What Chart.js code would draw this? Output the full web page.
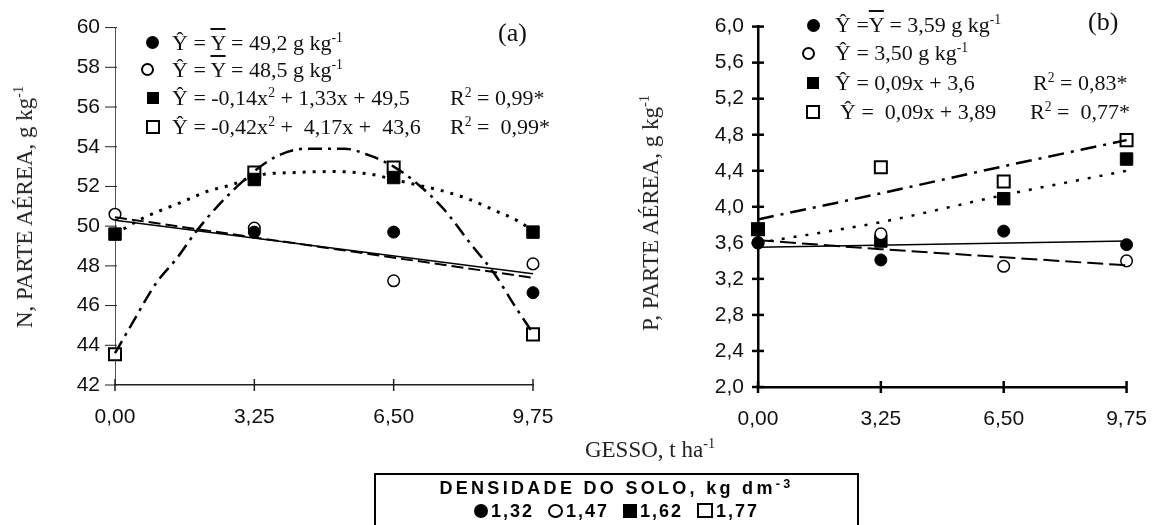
<!DOCTYPE html>
<html><head><meta charset="utf-8">
<script src="https://cdn.jsdelivr.net/npm/chart.js@4.4.1/dist/chart.umd.min.js"></script>
<style>
html,body{margin:0;padding:0;background:#fff;}
#wrap{position:relative;width:1167px;height:525px;overflow:hidden;background:#fff;}
canvas{position:absolute;top:0;}
.t{position:absolute;font-family:"Liberation Serif","Times New Roman",serif;font-size:22px;color:#111;white-space:pre;line-height:24px;}
.sup{font-size:0.62em;position:relative;top:-0.6em;}
.ov{text-decoration:overline;}
.mk{position:absolute;box-sizing:border-box;}
.rot{position:absolute;font-family:"Liberation Serif","Times New Roman",serif;font-size:23px;color:#222;white-space:pre;transform:translate(-50%,-50%) rotate(-90deg);line-height:24px;}
#box{position:absolute;left:374px;top:473px;width:485px;height:70px;border:2px solid #000;box-sizing:border-box;font-family:"Liberation Sans",Arial,sans-serif;font-weight:bold;font-size:18px;letter-spacing:3.3px;color:#000;text-align:center;}
.bm{display:inline-block;box-sizing:border-box;vertical-align:-1px;margin-right:3px;}
</style></head><body>
<div id="wrap">
<canvas id="ca" width="600" height="525" style="left:0"></canvas>
<canvas id="cb" width="567" height="525" style="left:600px"></canvas>

<!-- legend (a) -->
<div class="mk" style="left:146px;top:36px;width:13px;height:13px;border-radius:50%;background:#000"></div>
<div class="mk" style="left:141px;top:63px;width:13px;height:13px;border-radius:50%;border:2px solid #000;background:#fff"></div>
<div class="mk" style="left:147px;top:92px;width:12px;height:12px;background:#000"></div>
<div class="mk" style="left:146px;top:120px;width:14px;height:14px;border:2px solid #000;background:#fff"></div>
<div class="t" style="left:172px;top:31px">Ŷ = <span class="ov">Y</span> = 49,2 g kg<span class="sup">-1</span></div>
<div class="t" style="left:172px;top:58px">Ŷ = <span class="ov">Y</span> = 48,5 g kg<span class="sup">-1</span></div>
<div class="t" style="left:172px;top:86px">Ŷ = -0,14x<span class="sup">2</span> + 1,33x + 49,5</div>
<div class="t" style="left:450px;top:86px">R<span class="sup">2</span> = 0,99*</div>
<div class="t" style="left:172px;top:115px">Ŷ = -0,42x<span class="sup">2</span> +  4,17x +  43,6</div>
<div class="t" style="left:450px;top:115px">R<span class="sup">2</span> =  0,99*</div>
<div class="t" style="left:498px;top:19px;font-size:26px;line-height:28px">(a)</div>

<!-- legend (b) -->
<div class="mk" style="left:807px;top:19px;width:13px;height:13px;border-radius:50%;background:#000"></div>
<div class="mk" style="left:802px;top:47px;width:13px;height:13px;border-radius:50%;border:2px solid #000;background:#fff"></div>
<div class="mk" style="left:807px;top:77px;width:12px;height:12px;background:#000"></div>
<div class="mk" style="left:806px;top:105px;width:14px;height:14px;border:2px solid #000;background:#fff"></div>
<div class="t" style="left:835px;top:13px">Ŷ =<span class="ov">Y</span> = 3,59 g kg<span class="sup">-1</span></div>
<div class="t" style="left:835px;top:41px">Ŷ = 3,50 g kg<span class="sup">-1</span></div>
<div class="t" style="left:835px;top:71px">Ŷ = 0,09x + 3,6</div>
<div class="t" style="left:1033px;top:71px">R<span class="sup">2</span> = 0,83*</div>
<div class="t" style="left:840px;top:100px">Ŷ =  0,09x + 3,89</div>
<div class="t" style="left:1030px;top:100px">R<span class="sup">2</span> =  0,77*</div>
<div class="t" style="left:1088px;top:8px;font-size:26px;line-height:28px">(b)</div>

<!-- axis titles -->
<div class="rot" style="left:26px;top:207px">N, PARTE AÉREA, g kg<span class="sup">-1</span></div>
<div class="rot" style="left:652px;top:213px">P, PARTE AÉREA, g kg<span class="sup">-1</span></div>
<div class="t" style="left:650px;top:438px;font-size:23px;transform:translateX(-50%);color:#222">GESSO, t ha<span class="sup">-1</span></div>

<div id="box">
  <div style="position:absolute;left:0;right:0;top:3px;line-height:20px">DENSIDADE DO SOLO, kg dm<span style="font-size:0.7em;position:relative;top:-0.5em">-3</span></div>
  <div style="position:absolute;left:0;right:0;top:26px;line-height:20px;letter-spacing:2px"><span class="bm" style="width:14px;height:14px;border-radius:50%;background:#000"></span>1,32&nbsp;&nbsp;<span class="bm" style="width:15px;height:14px;border-radius:50%;border:2.5px solid #000"></span>1,47&nbsp;&nbsp;<span class="bm" style="width:14px;height:14px;background:#000"></span>1,62&nbsp;&nbsp;<span class="bm" style="width:16px;height:15px;border:2.5px solid #000"></span>1,77</div>
</div>
</div>

<script>
// ---- shared x categories ----
const gesso = [0, 3.25, 6.5, 9.75];
const gessoLabels = ['0,00', '3,25', '6,50', '9,75'];

// ---- chart (a): N ----
const nTicks = [42, 44, 46, 48, 50, 52, 54, 56, 58, 60];
const nTickLabels = ['42', '44', '46', '48', '50', '52', '54', '56', '58', '60'];
const N_d132 = [49.6, 49.7, 49.7, 46.65];
const N_d147 = [50.6, 49.9, 47.25, 48.1];
const N_d162 = [49.6, 52.35, 52.45, 49.7];
const N_d177 = [43.55, 52.7, 52.95, 44.55];
// fitted curves
const N_fit132_x = [0, 9.75];
const N_fit132 = [50.3, 47.6];
const N_fit147_x = [0, 9.75];
const N_fit147 = [50.45, 47.4];
const N_fit162_x = [0, 0.6, 1.6, 2.15, 2.75, 3.3, 4.2, 5.1, 6.0, 6.5, 7.1, 7.6, 8.2, 8.85, 9.45, 9.75];
const N_fit162 = [49.6, 50.35, 51.25, 51.75, 52.1, 52.55, 52.7, 52.75, 52.6, 52.35, 52.05, 51.8, 51.4, 50.8, 50.2, 49.75];
const N_fit177_x = [0, 0.4, 0.95, 1.45, 1.9, 2.35, 2.85, 3.3, 3.8, 4.45, 5.35, 5.95, 6.5, 7.1, 7.65, 8.3, 8.85, 9.35, 9.75];
const N_fit177 = [43.6, 45.1, 47.1, 48.4, 49.75, 50.9, 52.0, 52.85, 53.55, 53.9, 53.9, 53.55, 53.0, 52.05, 50.9, 49.1, 47.6, 45.9, 44.6];

// ---- chart (b): P ----
const pTicks = [2.0, 2.4, 2.8, 3.2, 3.6, 4.0, 4.4, 4.8, 5.2, 5.6, 6.0];
const pTickLabels = ['2,0', '2,4', '2,8', '3,2', '3,6', '4,0', '4,4', '4,8', '5,2', '5,6', '6,0'];
const P_d132 = [3.6, 3.41, 3.73, 3.58];
const P_d147 = [3.6, 3.70, 3.34, 3.40];
const P_d162 = [3.75, 3.62, 4.09, 4.53];
const P_d177 = [3.75, 4.44, 4.28, 4.74];
const P_fit132_x = [0, 9.75];
const P_fit132 = [3.55, 3.62];
const P_fit147 = [3.63, 3.53, 3.44, 3.35];
const P_fit162 = [3.6, 3.83, 4.13, 4.4];
const P_fit177 = [3.86, 4.15, 4.45, 4.74];

const pts = (xs, ys) => xs.map((x, i) => ({x: x, y: ys[i]}));

const tickMarks = {
  id: 'tickMarks',
  beforeDatasetsDraw(chart, args, o) {
    const ctx = chart.ctx, a = chart.chartArea, x = chart.scales.x, y = chart.scales.y;
    ctx.save();
    ctx.strokeStyle = o.color; ctx.lineWidth = o.width;
    x.ticks.forEach(t => {
      const px = x.getPixelForValue(t.value);
      ctx.beginPath(); ctx.moveTo(px, a.bottom - o.xIn); ctx.lineTo(px, a.bottom + o.xOut); ctx.stroke();
    });
    ctx.lineWidth = o.yWidth || o.width;
    y.ticks.forEach(t => {
      const py = y.getPixelForValue(t.value);
      ctx.beginPath(); ctx.moveTo(a.left - o.yOut, py); ctx.lineTo(a.left + o.yIn, py); ctx.stroke();
    });
    ctx.restore();
  }
};

function lineDs(data, width, dash, tension) {
  return {data: data, showLine: true, borderColor: '#000', borderWidth: width, borderDash: dash,
    pointRadius: 0, fill: false, tension: tension, cubicInterpolationMode: tension ? 'monotone' : 'default', clip: false};
}
function ptDs(data, style, filled, r, bw) {
  return {data: data, showLine: false, pointStyle: style, pointRadius: r, pointBorderWidth: bw,
    pointBackgroundColor: filled ? '#000' : '#fff', pointBorderColor: '#000', clip: false};
}

function makeChart(id, cfg) {
  return new Chart(document.getElementById(id), {
    type: 'scatter',
    data: {datasets: cfg.datasets},
    options: {
      responsive: false, animation: false, events: [],
      layout: {padding: {left: 0, top: cfg.top, right: cfg.right, bottom: 0}},
      plugins: {legend: {display: false}, tooltip: {enabled: false}, tickMarks: cfg.marks},
      scales: {
        x: {type: 'linear', min: 0, max: 9.75,
          afterBuildTicks: s => { s.ticks = gesso.map(v => ({value: v})); },
          afterFit: s => { s.height = cfg.xh; },
          ticks: {callback: (v, i) => gessoLabels[i], autoSkip: false, maxRotation: 0, padding: cfg.xpad,
            color: '#111', font: {family: 'Liberation Sans', size: 21}},
          grid: {display: true, drawOnChartArea: false, drawTicks: false},
          border: {display: true, color: cfg.xColor, width: cfg.xBorder}},
        y: {type: 'linear', min: cfg.ymin, max: cfg.ymax,
          afterBuildTicks: s => { s.ticks = cfg.yt.map(v => ({value: v})); },
          afterFit: s => { s.width = cfg.yw; },
          ticks: {callback: (v, i) => cfg.ytl[i], autoSkip: false, padding: cfg.ypad,
            color: '#111', font: {family: 'Liberation Sans', size: 21}},
          grid: {display: true, drawOnChartArea: false, drawTicks: false},
          border: {display: true, color: cfg.yColor, width: cfg.yBorder}}
      }
    },
    plugins: [tickMarks]
  });
}

makeChart('ca', {
  top: 25, right: 67, xh: 140, yw: 115, xpad: 20, ypad: 15, ymin: 42, ymax: 60, yt: nTicks, ytl: nTickLabels,
  xColor: '#222', xBorder: 1.5, yColor: '#555', yBorder: 1,
  marks: {color: '#222', width: 1.5, yWidth: 1, xIn: 6, xOut: 6, yIn: 2, yOut: 10},
  datasets: [
    lineDs(pts(N_fit132_x, N_fit132), 1.5, [], 0),
    lineDs(pts(N_fit147_x, N_fit147), 2, [12, 5], 0),
    lineDs(pts(N_fit162_x, N_fit162), 3, [3, 7], 0.4),
    lineDs(pts(N_fit177_x, N_fit177), 2.5, [14, 6, 3, 6], 0.4),
    ptDs(pts(gesso, N_d132), 'circle', true, 6, 1),
    ptDs(pts(gesso, N_d147), 'circle', false, 5.8, 1.5),
    ptDs(pts(gesso, N_d162), 'rect', true, 8.8, 1),
    ptDs(pts(gesso, N_d177), 'rect', false, 8.5, 2)
  ]
});

makeChart('cb', {
  top: 18, right: 29, xh: 138, yw: 158, xpad: 20, ypad: 14, ymin: 2, ymax: 6, yt: pTicks, ytl: pTickLabels,
  xColor: '#000', xBorder: 2.5, yColor: '#000', yBorder: 2.5,
  marks: {color: '#000', width: 2.5, xIn: 6, xOut: 6, yIn: 6, yOut: 6},
  datasets: [
    lineDs(pts(P_fit132_x, P_fit132), 1.5, [], 0),
    lineDs(pts(gesso, P_fit147), 2, [16, 6], 0.2),
    lineDs(pts(gesso, P_fit162), 2.5, [3, 9], 0.2),
    lineDs(pts(gesso, P_fit177), 2.5, [16, 7, 3, 7], 0.2),
    ptDs(pts(gesso, P_d132), 'circle', true, 6, 1),
    ptDs(pts(gesso, P_d147), 'circle', false, 5.8, 1.5),
    ptDs(pts(gesso, P_d162), 'rect', true, 8.8, 1),
    ptDs(pts(gesso, P_d177), 'rect', false, 8.5, 2)
  ]
});
</script>
</body></html>
